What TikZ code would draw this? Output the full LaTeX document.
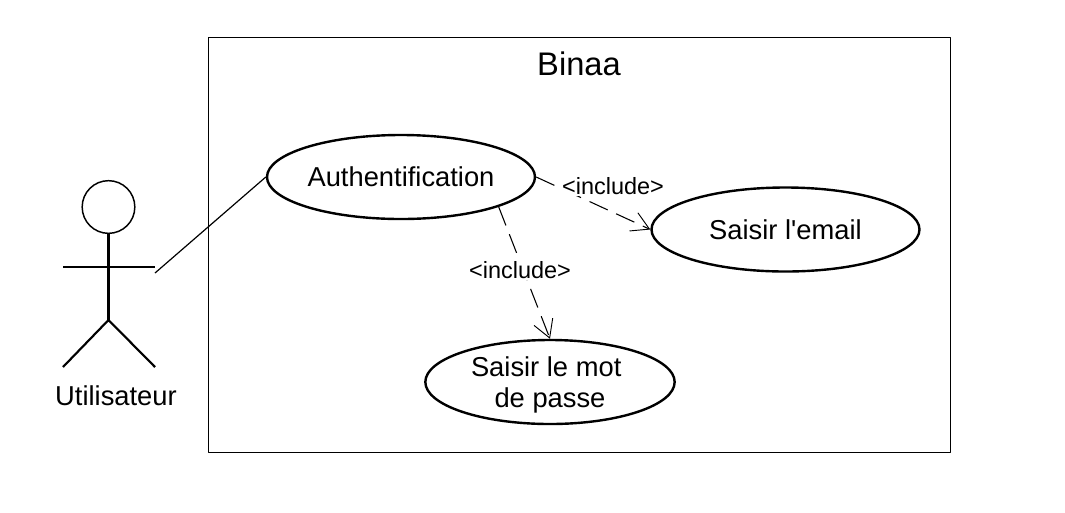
\documentclass[tikz,border=0pt]{standalone}
\usepackage{fontspec}
\setmainfont{Liberation Sans}
\usetikzlibrary{shapes.geometric,arrows.meta}
\begin{document}
\begin{tikzpicture}[x=0.75pt,y=-0.75pt,line join=round,font=\fontsize{20.5}{23.25}\selectfont]
	\tikzset{usecase/.style={draw,ellipse,line width=1.8pt,inner sep=0pt,minimum height=63pt,align=center},
		incl/.style={dashed,dash pattern=on 15pt off 7pt,line width=0.8pt,-{Straight Barb[length=13pt,width=15pt,line width=0.7pt]}},
		incltext/.style={fill=white,inner sep=1pt,font=\fontsize{17.6}{20}\selectfont},
		limb/.style={line width=1.6pt}}
	\useasboundingbox (0,0) rectangle (1065,512);
	\path (108.5,267) coordinate (armM)
	(63,267) coordinate (armL)
	(155,267) coordinate (armR)
	(108.5,320) coordinate (hip)
	(63,367) coordinate (legL)
	(155,367) coordinate (legR)
	(155,273) coordinate (hand)
	;
	\node[draw,line width=1pt,minimum width=556.5pt,minimum height=311pt,inner sep=0pt] (sys) at (579.5,245) {};
	\node[font=\fontsize{24.5}{28}\selectfont] (title) at (579,63.5) {Binaa};
	\node[usecase,minimum width=201pt] (auth) at (401,177) {Authentification};
	\node[usecase,minimum width=201pt] (email) at (785.5,229.5) {Saisir l\textquotesingle email};
	\node[usecase,inner sep=-5pt,minimum width=187pt] (pass) at (550,382) {\rule{0pt}{19.5pt}Saisir le mot\hspace*{0.278em}\\de passe};
	% actor
	\node[draw,circle,line width=1.1pt,minimum size=39.5pt,inner sep=0pt] (head) at (108.5,207) {};
	\draw[limb] (head.south) -- (hip);
	\draw[limb] (armL) -- (armR);
	\draw[limb] (legL) -- (hip) -- (legR);
	\node (actor) at (116,395.5) {Utilisateur};
	% links
	\draw[line width=0.9pt] (hand) -- (auth.west);
	\draw[incl] (auth.east) -- (email.west);
	\draw[incl] (auth.-17.4) -- (pass.north);
	\node[incltext] (inclA) at (613,186) {<include>};
	\node[incltext] (inclB) at (520,270) {<include>};
\end{tikzpicture}
\end{document}
